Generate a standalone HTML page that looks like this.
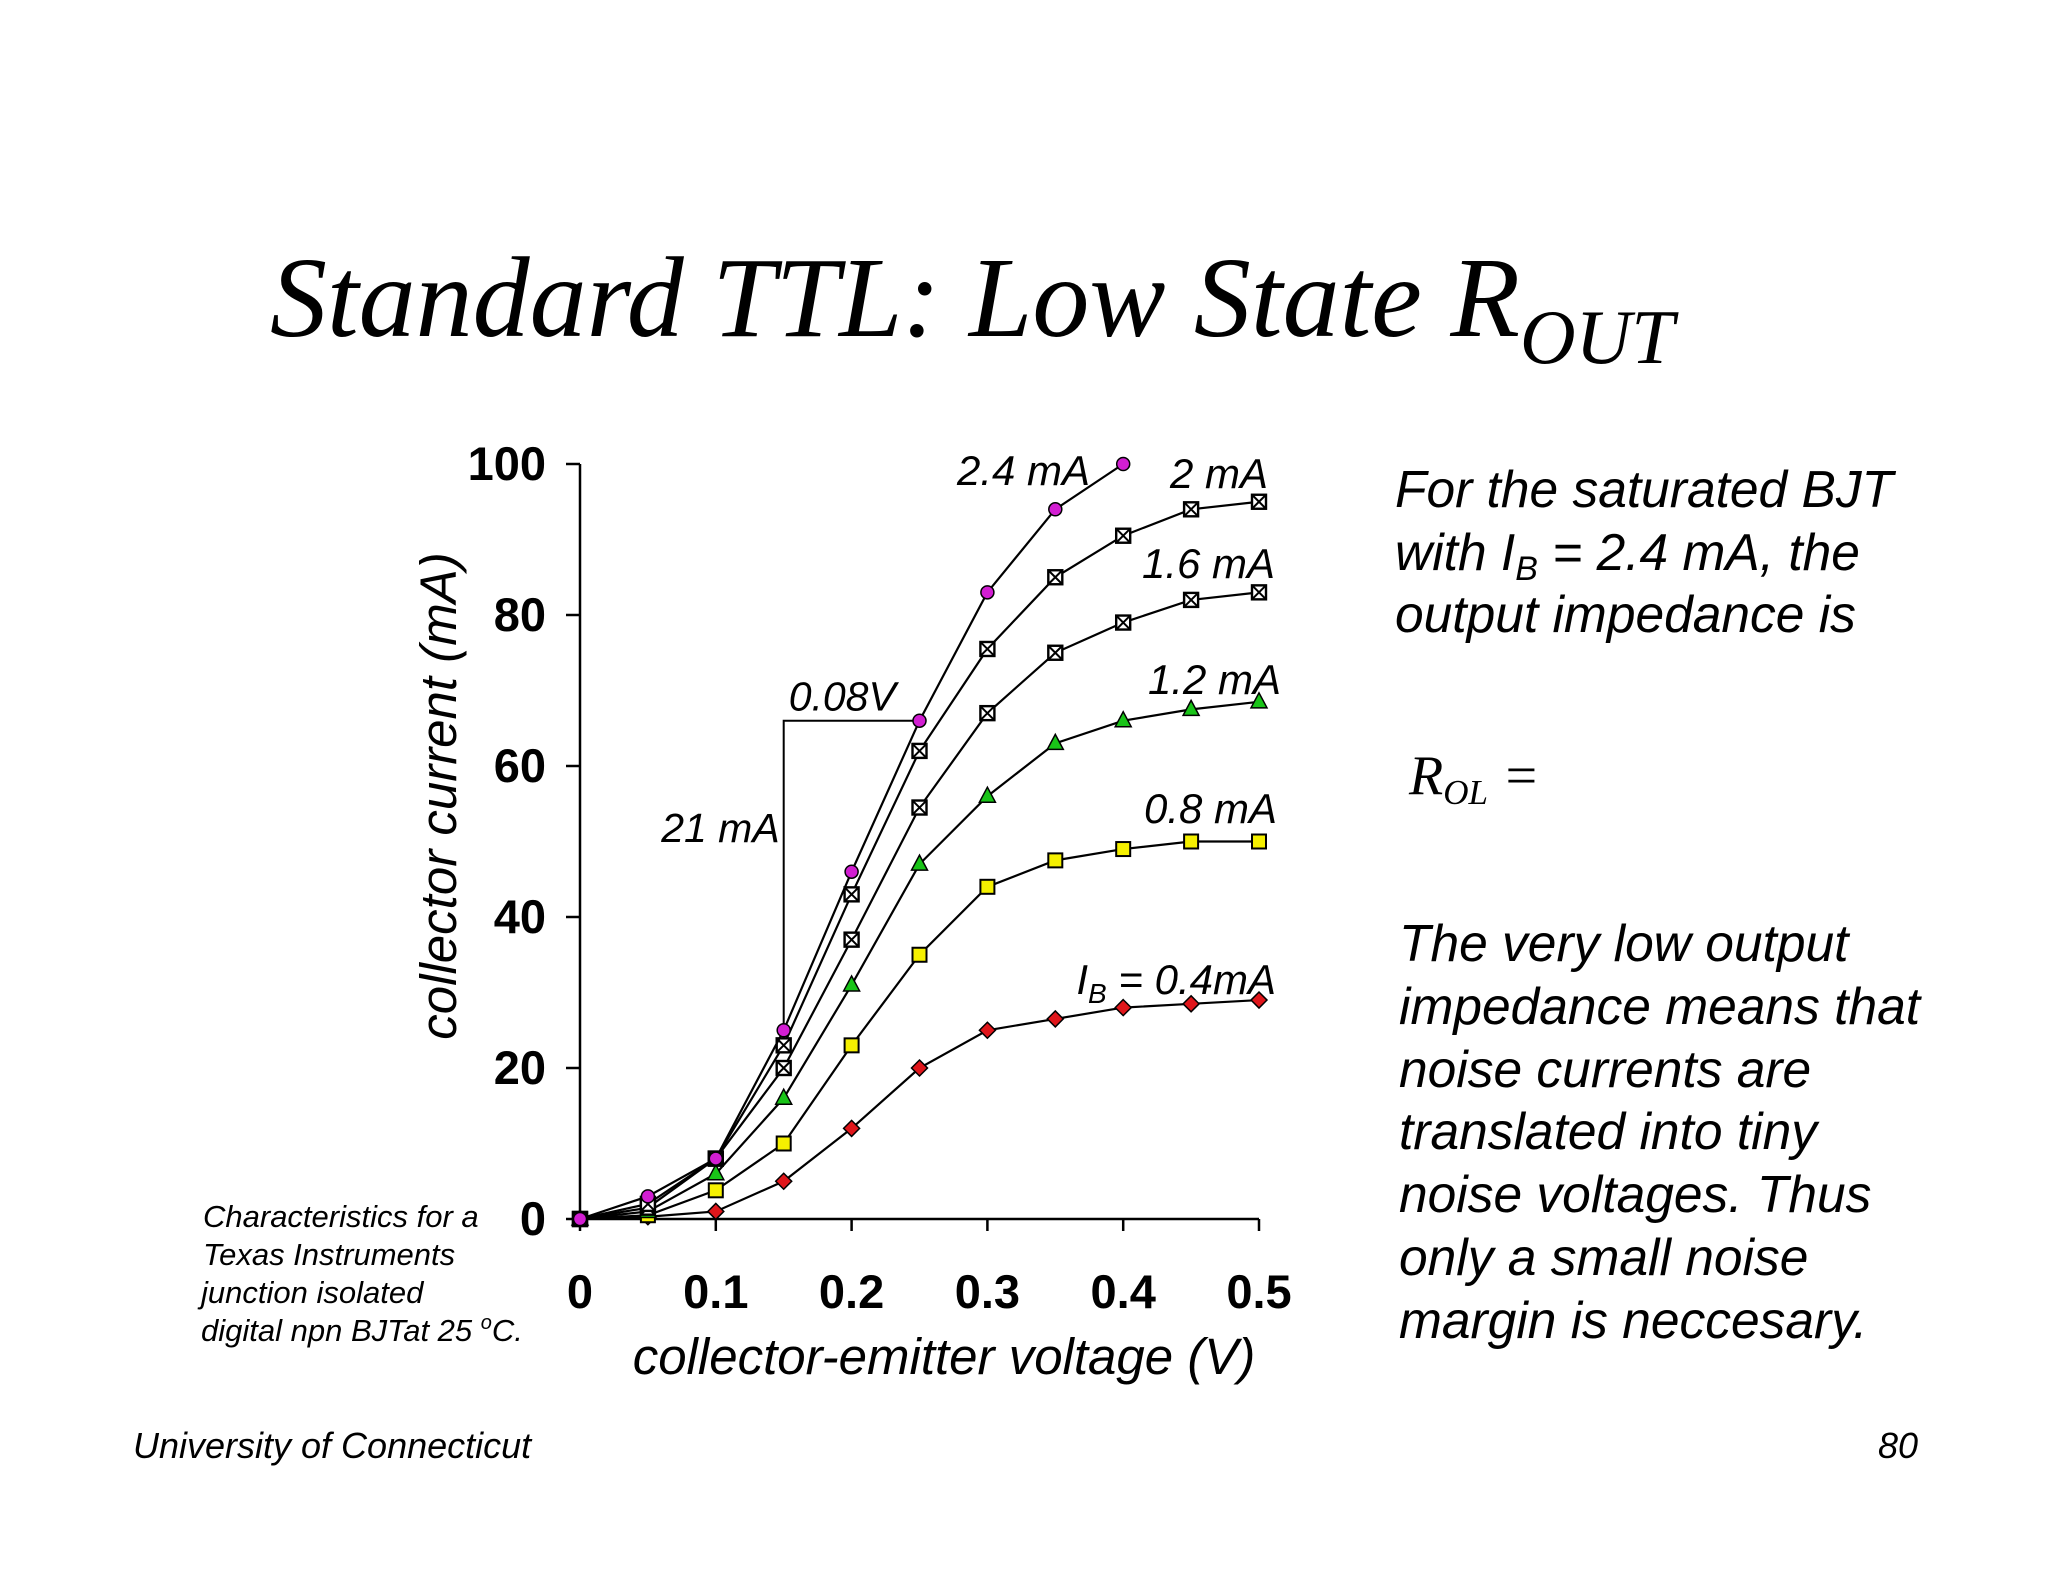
<!DOCTYPE html>
<html><head><meta charset="utf-8">
<style>
html,body{margin:0;padding:0;background:#fff;}
svg{display:block;}
text{font-family:"Liberation Sans",sans-serif;}
</style></head>
<body>
<svg id="chart" width="2048" height="1582" viewBox="0 0 2048 1582" xmlns="http://www.w3.org/2000/svg">
<text x="270" y="336" font-style="italic" font-size="114" style="font-family:'Liberation Serif',serif">Standard TTL: Low State R<tspan font-size="77" dy="27">OUT</tspan></text>
<g id="plot"></g>
<text transform="translate(456,796) rotate(-90)" text-anchor="middle" font-style="italic" font-size="51">collector current (mA)</text>
<text x="944" y="1374" text-anchor="middle" font-style="italic" font-size="51">collector-emitter voltage (V)</text>
<g font-style="italic" font-size="31">
<text x="203" y="1227">Characteristics for a</text>
<text x="203" y="1265">Texas Instruments</text>
<text x="201" y="1303">junction isolated</text>
<text x="201" y="1341">digital npn BJTat 25 <tspan font-size="20" dy="-12">o</tspan><tspan dy="12">C.</tspan></text>
</g>
<g font-style="italic" font-size="51.5">
<text x="1395" y="507">For the saturated BJT</text>
<text x="1395" y="570">with I<tspan font-size="34" dy="10">B</tspan><tspan dy="-10"> = 2.4 mA, the</tspan></text>
<text x="1395" y="632">output impedance is</text>
<text x="1409" y="794" font-size="56" style="font-family:'Liberation Serif',serif">R<tspan font-size="35" dy="10">OL</tspan><tspan dy="-10"> =</tspan></text>
<text x="1399" y="961">The very low output</text>
<text x="1399" y="1024">impedance means that</text>
<text x="1399" y="1087">noise currents are</text>
<text x="1399" y="1149">translated into tiny</text>
<text x="1399" y="1212">noise voltages.  Thus</text>
<text x="1399" y="1275">only a small noise</text>
<text x="1399" y="1338">margin is neccesary.</text>
</g>
<text x="133" y="1458" font-style="italic" font-size="36">University of Connecticut</text>
<text x="1918" y="1458" text-anchor="end" font-style="italic" font-size="36">80</text>
</svg>
<script>
const xVals = [0,0.05,0.1,0.15,0.2,0.25,0.3,0.35,0.4,0.45,0.5];
const s24 = [0,3,8,25,46,66,83,94,100];
const s20 = [0,2,8,23,43,62,75.5,85,90.5,94,95];
const s16 = [0,1.5,8,20,37,54.5,67,75,79,82,83];
const s12 = [0,1,6,16,31,47,56,63,66,67.5,68.5];
const s08 = [0,0.5,3.8,10,23,35,44,47.5,49,50,50];
const s04 = [0,0.3,1,5,12,20,25,26.5,28,28.5,29];
const yTicks = [0,20,40,60,80,100];
const xTicks = [0,0.1,0.2,0.3,0.4,0.5];
const xTickLabels = ["0","0.1","0.2","0.3","0.4","0.5"];

const NS="http://www.w3.org/2000/svg";
const X0=580,X1=1259,Y0=1219,Y1=464;
const sx=v=>X0+(X1-X0)*v/0.5;
const sy=v=>Y0-(Y0-Y1)*v/100;
const g=document.getElementById('plot');
function mk(tag,attrs,parent){const e=document.createElementNS(NS,tag);for(const k in attrs)e.setAttribute(k,attrs[k]);(parent||g).appendChild(e);return e;}

let e=mk('line',{x1:X0,y1:Y1,x2:X0,y2:Y0,stroke:'#000','stroke-width':2.5});


e=mk('line',{x1:X0,y1:Y0,x2:X1,y2:Y0,stroke:'#000','stroke-width':2.5});


yTicks.forEach(t=>{
  let l=mk('line',{x1:X0-14,y1:sy(t),x2:X0,y2:sy(t),stroke:'#000','stroke-width':2.5});
  
  
  let tx=mk('text',{x:X0-34,y:sy(t)+16,'text-anchor':'end','font-weight':'bold','font-size':47});
  tx.textContent=t;
  
  
});
xTicks.forEach((t,i)=>{
  let l=mk('line',{x1:sx(t),y1:Y0,x2:sx(t),y2:Y0+12,stroke:'#000','stroke-width':2.5});
  
  
  let tx=mk('text',{x:sx(t),y:1322-14,'text-anchor':'middle','font-weight':'bold','font-size':47});
  tx.textContent=xTickLabels[i];
  
  
});
e=mk('polyline',{points:`${sx(0.15)},${sy(25)} ${sx(0.15)},${sy(66)} ${sx(0.25)},${sy(66)}`,fill:'none',stroke:'#000','stroke-width':2});


e=mk('text',{x:sx(0.15)+5,y:sy(66)-10,'font-style':'italic','font-size':41});
e.textContent='0.08V';


e=mk('text',{x:sx(0.15)-4,y:842,'text-anchor':'end','font-style':'italic','font-size':41});
e.textContent='21 mA';



const series=[
 {d:s04,m:'diamond',c:'#e0161b',name:'series-0-4ma'},
 {d:s08,m:'square',c:'#f5f000',name:'series-0-8ma'},
 {d:s12,m:'triangle',c:'#19c418',name:'series-1-2ma'},
 {d:s16,m:'xsquare',c:'#fff',name:'series-1-6ma'},
 {d:s20,m:'xsquare',c:'#fff',name:'series-2ma'},
 {d:s24,m:'circle',c:'#d21ed2',name:'series-2-4ma'}
];
series.forEach(s=>{
  const sg=mk('g',{});
  
  
  mk('polyline',{points:s.d.map((v,i)=>sx(xVals[i])+','+sy(v)).join(' '),fill:'none',stroke:'#000','stroke-width':2.2},sg);
  s.d.forEach((v,i)=>{
    const x=sx(xVals[i]),y=sy(v);let p;
    if(s.m==='circle')p=mk('circle',{cx:x,cy:y,r:6.5,fill:s.c,stroke:'#000','stroke-width':1.5},sg);
    else if(s.m==='diamond')p=mk('polygon',{points:`${x},${y-8} ${x+8},${y} ${x},${y+8} ${x-8},${y}`,fill:s.c,stroke:'#000','stroke-width':1.5},sg);
    else if(s.m==='triangle')p=mk('polygon',{points:`${x},${y-9} ${x+8},${y+6} ${x-8},${y+6}`,fill:s.c,stroke:'#000','stroke-width':1.5},sg);
    else if(s.m==='square')p=mk('rect',{x:x-7,y:y-7,width:14,height:14,fill:s.c,stroke:'#000','stroke-width':2},sg);
    else {p=mk('rect',{x:x-7,y:y-7,width:14,height:14,fill:'#fff',stroke:'#000','stroke-width':2.4},sg);
      mk('path',{d:`M${x-7},${y-7}L${x+7},${y+7}M${x+7},${y-7}L${x-7},${y+7}`,stroke:'#000','stroke-width':2},sg);}
    
    
  });
});
const labels=[
 ['2.4 mA',1098-8,485],['2 mA',1268,488],['1.6 mA',1275,578],['1.2 mA',1281,694],['0.8 mA',1277,823]
];
labels.forEach(l=>{
  const t=mk('text',{x:l[1],y:l[2],'text-anchor':'end','font-style':'italic','font-size':42});
  t.textContent=l[0];
  
  
});
const ib=mk('text',{x:1276,y:994,'text-anchor':'end','font-style':'italic','font-size':42});
ib.innerHTML='I<tspan font-size="28" dy="9">B</tspan><tspan dy="-9"> = 0.4mA</tspan>';


</script>
</body></html>
